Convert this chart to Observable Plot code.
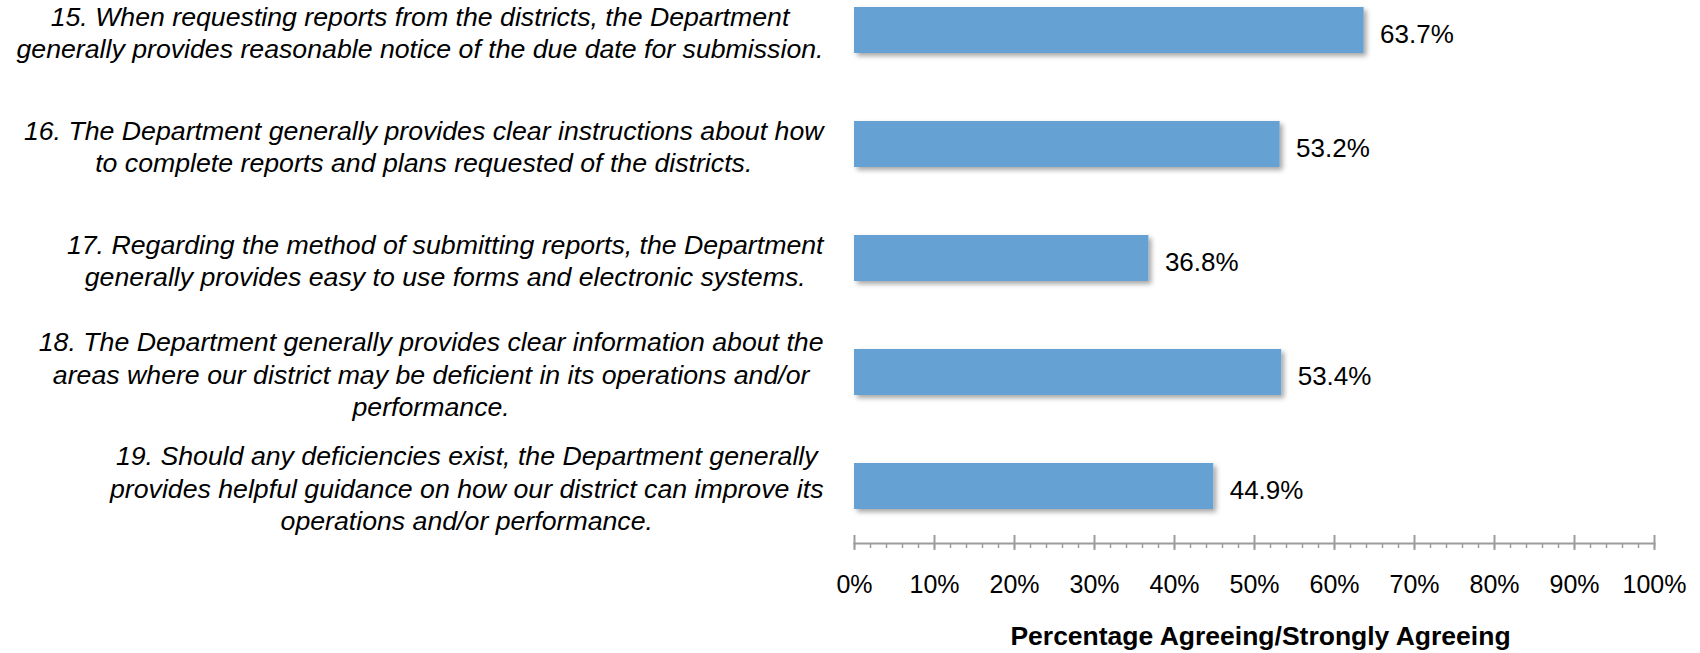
<!DOCTYPE html>
<html>
<head>
<meta charset="utf-8">
<script src="https://cdn.jsdelivr.net/npm/d3@7"></script>
<script src="https://cdn.jsdelivr.net/npm/@observablehq/plot@0.6"></script>
<style>
  html, body { margin: 0; padding: 0; background: #fff; }
</style>
</head>
<body>
<div id="chart"></div>
<script>
// ---- Data ----
const categories = ["Q15", "Q16", "Q17", "Q18", "Q19"];
const questions = [
  ["15. When requesting reports from the districts, the Department",
   "generally provides reasonable notice of the due date for submission."],
  ["16. The Department generally provides clear instructions about how",
   "to complete reports and plans requested of the districts."],
  ["17. Regarding the method of submitting reports, the Department",
   "generally provides easy to use forms and electronic systems."],
  ["18. The Department generally provides clear information about the",
   "areas where our district may be deficient in its operations and/or",
   "performance."],
  ["19. Should any deficiencies exist, the Department generally",
   "provides helpful guidance on how our district can improve its",
   "operations and/or performance."]
];
const values = [63.7, 53.2, 36.8, 53.4, 44.9];
const majorTicks = [0, 10, 20, 30, 40, 50, 60, 70, 80, 90, 100];
const minorTicks = [0, 2, 4, 6, 8, 10, 12, 14, 16, 18, 20, 22, 24, 26, 28, 30, 32, 34, 36, 38, 40,
  42, 44, 46, 48, 50, 52, 54, 56, 58, 60, 62, 64, 66, 68, 70, 72, 74, 76, 78, 80,
  82, 84, 86, 88, 90, 92, 94, 96, 98, 100];
const xTitle = "Percentage Agreeing/Strongly Agreeing";

// ---- Styling ----
const barColor = "#66A1D3";
const axisColor = "#9c9c9c";
const family = "'Liberation Sans', Arial, Helvetica, sans-serif";
const labelFont = 26.7;
const marginLeft = 854;
const labelRight = 823;

const data = categories.map((c, i) => ({cat: c, value: values[i], lines: questions[i]}));

// measure label widths so each block is right-aligned with centred lines
const ctx = document.createElement("canvas").getContext("2d");
ctx.font = `italic ${labelFont}px 'Liberation Sans'`;
const labelMarks = data.map(d => {
  const w = Math.max(...d.lines.map(l => ctx.measureText(l).width));
  return Plot.text([d], {
    y: "cat",
    text: r => r.lines.join("\n"),
    frameAnchor: "left",
    textAnchor: "middle",
    dx: (labelRight - w / 2) - marginLeft,
    dy: 1,
    lineHeight: 1.22,
    fontSize: labelFont,
    fontStyle: "italic",
    fill: "#000"
  });
});

const svg = Plot.plot({
  width: 1700,
  height: 653,
  marginLeft: marginLeft,
  marginRight: 46,
  marginTop: 0,
  marginBottom: 110,
  style: {fontFamily: family, background: "#fff", color: "#000", overflow: "visible"},
  x: {domain: [0, 100], axis: null, label: null},
  y: {domain: categories, axis: null, label: null, paddingInner: 0.6, paddingOuter: 0.06, insetBottom: 27},
  marks: [
    Plot.barX(data, {x: "value", y: "cat", fill: barColor}),
    Plot.text(data, {x: "value", y: "cat", text: d => d.value.toFixed(1) + "%",
      textAnchor: "start", dx: 16, dy: 4, fontSize: 26, fill: "#000"}),
    Plot.frame({anchor: "bottom", stroke: axisColor, strokeWidth: 2}),
    Plot.axisX(minorTicks, {tickSize: 5, text: null, label: null, stroke: axisColor, strokeWidth: 1.5}),
    Plot.ruleX(majorTicks, {insetTop: 535, insetBottom: -7, stroke: axisColor, strokeWidth: 2}),
    Plot.axisX(majorTicks, {tickSize: 0, tickPadding: 32, tickFormat: d => d + "%",
      fontSize: 25, label: null, fill: "#000"}),
    Plot.text([xTitle], {frameAnchor: "bottom", dx: 6, dy: 101, fontWeight: "bold",
      fontSize: 26.5, fill: "#000"}),
    ...labelMarks
  ]
});

// drop shadow on bars
const ns = "http://www.w3.org/2000/svg";
const defs = document.createElementNS(ns, "defs");
const filter = document.createElementNS(ns, "filter");
filter.setAttribute("id", "barShadow");
filter.setAttribute("x", "-5%"); filter.setAttribute("y", "-20%");
filter.setAttribute("width", "115%"); filter.setAttribute("height", "160%");
const ds = document.createElementNS(ns, "feDropShadow");
ds.setAttribute("dx", "3"); ds.setAttribute("dy", "3");
ds.setAttribute("stdDeviation", "2.5");
ds.setAttribute("flood-color", "#000"); ds.setAttribute("flood-opacity", "0.35");
filter.appendChild(ds); defs.appendChild(filter);
svg.insertBefore(defs, svg.firstChild);
svg.querySelectorAll('g[aria-label="bar"] rect').forEach(r => r.setAttribute("filter", "url(#barShadow)"));

document.getElementById("chart").appendChild(svg);
</script>
</body>
</html>
